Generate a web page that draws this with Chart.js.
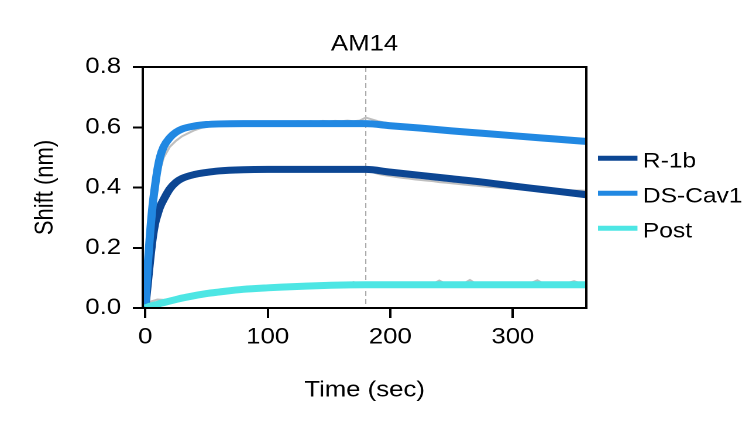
<!DOCTYPE html>
<html><head><meta charset="utf-8">
<script src="https://cdn.jsdelivr.net/npm/chart.js@4.4.1/dist/chart.umd.min.js"></script>
<style>
html,body{margin:0;padding:0;background:#fff;overflow:hidden;width:749px;height:423px;}
#wrap{position:absolute;left:0;top:0;width:640px;height:423px;transform:scaleX(1.1703);transform-origin:0 0;}
</style></head><body>
<div id="wrap"><canvas id="c"></canvas></div>
<script>
const chartTitle = 'AM14';
const xAxisTitle = 'Time (sec)';
const yAxisTitle = 'Shift (nm)';
const seriesNames = ['R-1b', 'DS-Cav1', 'Post'];
const seriesColors = ['#0C4693', '#2188E2', '#4DE6E4'];
const xTicks = [0, 100, 200, 300];
const yTicks = [0, 0.2, 0.4, 0.6, 0.8];
const dissociationStart = 180;

// fitted curves
const fitTime = [0, 2, 4, 6, 8, 10, 12, 15, 20, 25, 30, 40, 50, 60, 80, 100, 140, 180, 200, 225, 250, 275, 300, 325, 350, 360];
const fitR1b  = [0, 0.08, 0.16, 0.23, 0.28, 0.31, 0.335, 0.36, 0.395, 0.417, 0.43, 0.443, 0.45, 0.455, 0.459, 0.46, 0.46, 0.46, 0.451, 0.44, 0.429, 0.418, 0.405, 0.393, 0.381, 0.376];
const fitDS   = [0, 0.14, 0.25, 0.34, 0.405, 0.46, 0.5, 0.535, 0.565, 0.583, 0.594, 0.604, 0.609, 0.611, 0.612, 0.612, 0.612, 0.612, 0.605, 0.597, 0.588, 0.58, 0.572, 0.564, 0.556, 0.553];
const fitPost = [0, 0.003, 0.006, 0.008, 0.01, 0.012, 0.015, 0.018, 0.023, 0.028, 0.033, 0.041, 0.048, 0.053, 0.062, 0.067, 0.074, 0.077, 0.077, 0.077, 0.077, 0.077, 0.077, 0.077, 0.077, 0.077];

// raw measured traces (grey)
const rawTime = [0,5,10,15,20,25,30,35,40,45,50,55,60,65,70,75,80,85,90,95,100,105,110,115,120,125,130,135,140,145,150,155,160,165,170,175,180,185,190,195,200,205,210,215,220,225,230,235,240,245,250,255,260,265,270,275,280,285,290,295,300,305,310,315,320,325,330,335,340,345,350,355,360];
const rawR1b = [0,0.19,0.3,0.355,0.39,0.41,0.425,0.435,0.442,0.448,0.452,0.456,0.46,0.463,0.462,0.465,0.464,0.466,0.465,0.467,0.466,0.468,0.466,0.467,0.465,0.467,0.466,0.468,0.466,0.467,0.465,0.466,0.464,0.465,0.463,0.464,0.462,0.452,0.445,0.441,0.438,0.435,0.432,0.43,0.427,0.425,0.423,0.421,0.418,0.416,0.414,0.412,0.41,0.408,0.406,0.404,0.402,0.401,0.399,0.398,0.397,0.396,0.395,0.394,0.393,0.393,0.392,0.392,0.391,0.391,0.39,0.39,0.389];
const rawDS = [0,0.28,0.43,0.5,0.535,0.555,0.57,0.58,0.59,0.597,0.602,0.605,0.61,0.612,0.614,0.612,0.616,0.614,0.617,0.615,0.618,0.616,0.619,0.617,0.618,0.62,0.617,0.62,0.618,0.621,0.619,0.621,0.62,0.622,0.62,0.622,0.632,0.626,0.62,0.616,0.612,0.607,0.604,0.602,0.599,0.597,0.594,0.592,0.59,0.589,0.587,0.586,0.584,0.582,0.581,0.579,0.577,0.576,0.574,0.573,0.571,0.57,0.568,0.566,0.565,0.563,0.562,0.56,0.559,0.557,0.556,0.554,0.553];
const rawPost = [0,0.022,0.028,0.027,0.029,0.031,0.034,0.037,0.041,0.045,0.048,0.051,0.054,0.057,0.059,0.061,0.063,0.064,0.066,0.067,0.068,0.069,0.07,0.071,0.072,0.073,0.074,0.074,0.075,0.076,0.076,0.077,0.077,0.078,0.086,0.079,0.083,0.079,0.078,0.079,0.078,0.08,0.079,0.078,0.08,0.079,0.078,0.08,0.091,0.08,0.079,0.08,0.081,0.093,0.08,0.079,0.081,0.08,0.082,0.08,0.081,0.082,0.08,0.083,0.092,0.081,0.08,0.082,0.081,0.083,0.089,0.082,0.081];

const FONT = "'Liberation Sans', Arial, sans-serif";
const pts = (xs, ys) => xs.map((t, i) => ({x: t, y: ys[i]}));

const rawSets = [rawR1b, rawDS, rawPost].map((d, i) => ({
  label: 'raw ' + seriesNames[i], data: pts(rawTime, d), isRaw: true,
  borderColor: '#bfbfbf', borderWidth: 2, pointRadius: 0, tension: 0, order: 10
}));
const fitSets = [fitR1b, fitDS, fitPost].map((d, i) => ({
  label: seriesNames[i], data: pts(fitTime, d),
  borderColor: seriesColors[i], borderWidth: 7, pointRadius: 0,
  cubicInterpolationMode: 'monotone', order: 3 - i
}));

const decor = {
  id: 'decor',
  beforeDatasetsDraw(chart) {
    const {ctx, chartArea: a, scales: {x}} = chart;
    const px = x.getPixelForValue(dissociationStart);
    ctx.save();
    ctx.strokeStyle = '#a3a3a3'; ctx.lineWidth = 1; ctx.setLineDash([5, 3]);
    ctx.beginPath(); ctx.moveTo(px, a.top); ctx.lineTo(px, a.bottom); ctx.stroke();
    ctx.restore();
  },
  afterDraw(chart) {
    const {ctx, chartArea: a} = chart;
    ctx.save();
    ctx.strokeStyle = '#000'; ctx.lineWidth = 2;
    ctx.strokeRect(a.left, a.top, a.right - a.left, a.bottom - a.top);
    ctx.fillStyle = '#000';
    ctx.textAlign = 'center'; ctx.textBaseline = 'alphabetic';
    ctx.font = '22px ' + FONT;
    const cx = (a.left + a.right) / 2;
    ctx.fillText(chartTitle, cx, 50.5);
    ctx.fillText(xAxisTitle, cx, 396.5);
    ctx.save();
    ctx.translate(45, (a.top + a.bottom) / 2);
    ctx.rotate(-Math.PI / 2);
    ctx.fillText(yAxisTitle, 0, 0);
    ctx.restore();
    // legend
    ctx.font = '21px ' + FONT;
    ctx.textAlign = 'left';
    fitSets.forEach((ds, i) => {
      const y = 158.3 + 35 * i;
      ctx.strokeStyle = ds.borderColor; ctx.lineWidth = 5;
      ctx.beginPath(); ctx.moveTo(511, y); ctx.lineTo(544.7, y); ctx.stroke();
      ctx.fillText(ds.label, 549.3, y + 9);
    });
    ctx.restore();
  }
};

new Chart(document.getElementById('c'), {
  type: 'line',
  data: {datasets: [...fitSets, ...rawSets]},
  options: {
    responsive: true, maintainAspectRatio: false, animation: false,
    devicePixelRatio: 2,
    layout: {padding: {left: 0, right: 139, top: 67, bottom: 0}},
    plugins: {legend: {display: false}, title: {display: false}, tooltip: {enabled: false}},
    scales: {
      x: {
        type: 'linear', min: -2, max: 360,
        afterBuildTicks: s => { s.ticks = xTicks.map(v => ({value: v})); },
        afterFit: s => { s.height = 115; },
        ticks: {color: '#000', font: {family: FONT, size: 22}, padding: 6, maxRotation: 0, callback: v => String(v)},
        grid: {display: true, drawOnChartArea: false, drawTicks: true, tickLength: 10, tickWidth: 2, tickColor: '#000'},
        border: {display: true, color: '#000', width: 2}
      },
      y: {
        type: 'linear', min: 0, max: 0.8,
        afterBuildTicks: s => { s.ticks = yTicks.map(v => ({value: v})); },
        afterFit: s => { s.width = 122; },
        ticks: {color: '#000', font: {family: FONT, size: 22}, padding: 10, callback: v => Number(v).toFixed(1)},
        grid: {display: true, drawOnChartArea: false, drawTicks: true, tickLength: 8.5, tickWidth: 2, tickColor: '#000'},
        border: {display: true, color: '#000', width: 2}
      }
    }
  },
  plugins: [decor]
});
</script>
</body></html>
